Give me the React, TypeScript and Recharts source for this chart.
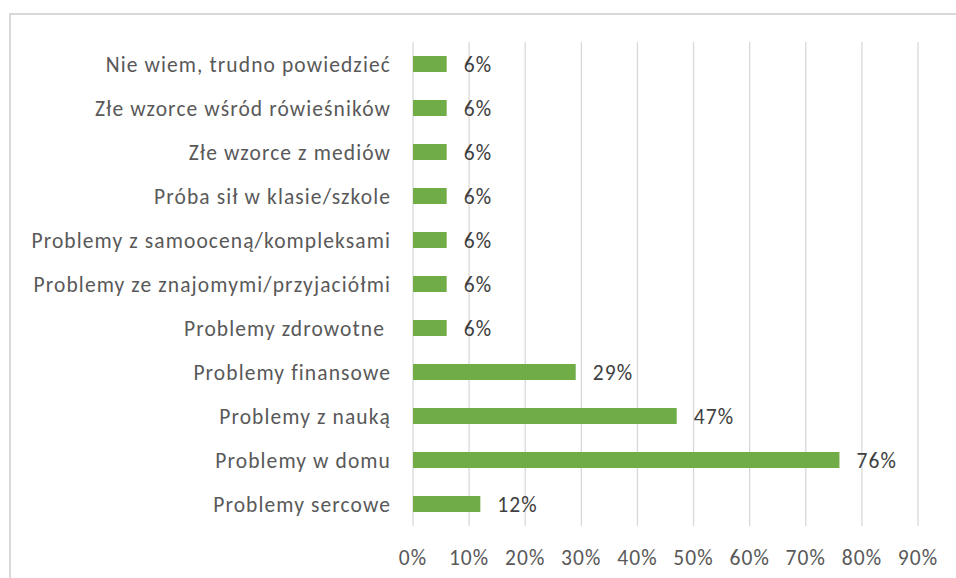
import * as React from 'react';
import { Bar, BarChart, CartesianGrid, LabelList, XAxis, YAxis } from 'recharts';

const categories = [
  'Nie wiem, trudno powiedzieć',
  'Złe wzorce wśród rówieśników',
  'Złe wzorce z mediów',
  'Próba sił w klasie/szkole',
  'Problemy z samooceną/kompleksami',
  'Problemy ze znajomymi/przyjaciółmi',
  'Problemy zdrowotne\u00A0',
  'Problemy finansowe',
  'Problemy z nauką',
  'Problemy w domu',
  'Problemy sercowe',
];

const values = [6, 6, 6, 6, 6, 6, 6, 29, 47, 76, 12];

const xTicks = [0, 10, 20, 30, 40, 50, 60, 70, 80, 90];

const font = 'Carlito, Calibri, Lato, sans-serif';
const fontSize = 21.5;

export default function App() {
  const data = categories.map((name, i) => ({ name, value: values[i] }));

  return (
    <div style={{ position: 'absolute', left: 0, top: 0, width: 956, height: 578, background: '#fff', fontFamily: font }}>
      <style>{'.recharts-text, .recharts-label { letter-spacing: 1.1px; font-weight: 300; }'}</style>
      <div
        style={{
          position: 'absolute',
          left: 9,
          top: 13,
          right: 0,
          bottom: 0,
          borderTop: '2px solid #D9D9D9',
          borderLeft: '2px solid #D9D9D9',
        }}
      />
      <BarChart width={956} height={578} data={data} layout="vertical" margin={{ top: 42, right: 38, bottom: 12, left: 0 }}>
        <CartesianGrid horizontal={false} stroke="#D9D9D9" strokeWidth={1.3} />
        <XAxis
          type="number"
          domain={[0, 90]}
          ticks={xTicks}
          interval={0}
          tickFormatter={(v: number) => `${v}%`}
          axisLine={false}
          tickLine={false}
          tickSize={0}
          tickMargin={24}
          height={40}
          tick={{ fill: '#595959', fontSize, fontFamily: font }}
        />
        <YAxis
          type="category"
          dataKey="name"
          width={413}
          interval={0}
          axisLine={false}
          tickLine={false}
          tickSize={0}
          tickMargin={22}
          tick={{ fill: '#595959', fontSize, fontFamily: font }}
        />
        <Bar dataKey="value" fill="#70AD47" barSize={16} isAnimationActive={false}>
          <LabelList
            dataKey="value"
            position="right"
            offset={17}
            formatter={(v: number) => `${v}%`}
            fill="#404040"
            fontSize={fontSize}
            fontFamily={font}
          />
        </Bar>
      </BarChart>
    </div>
  );
}
